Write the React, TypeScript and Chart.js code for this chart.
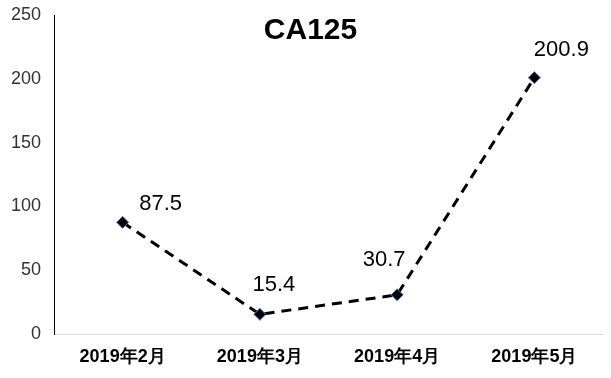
import React, { useEffect, useRef } from "react";
import { Chart, registerables } from "chart.js";

Chart.register(...registerables);

const categories = ["2019年2月", "2019年3月", "2019年4月", "2019年5月"];
const values = [87.5, 15.4, 30.7, 200.9];
const labelTexts = ["87.5", "15.4", "30.7", "200.9"];
const labelOffsetsX = [38, 14, -13, 27];
const labelOffsetsY = [-18, -29, -35, -28];
const titleText = "CA125";
const yMin = 0;
const yMax = 250;
const yStep = 50;

const FONT = "'Liberation Sans', Arial, sans-serif";

const overlayPlugin = {
  id: "overlay",
  afterDatasetsDraw(chart: any) {
    const ctx = chart.ctx;
    const meta = chart.getDatasetMeta(0);
    ctx.save();
    ctx.fillStyle = "#000";
    ctx.font = `22px ${FONT}`;
    ctx.textAlign = "center";
    ctx.textBaseline = "middle";
    meta.data.forEach((pt: any, i: number) => {
      ctx.fillText(labelTexts[i], pt.x + labelOffsetsX[i], pt.y + labelOffsetsY[i]);
    });
    ctx.font = `bold 30px ${FONT}`;
    const ca = chart.chartArea;
    ctx.fillText(titleText, (ca.left + ca.right) / 2 - 18, 31);
    ctx.restore();
  },
};

export default function App() {
  const ref = useRef<HTMLCanvasElement | null>(null);
  useEffect(() => {
    document.body.style.margin = "0";
    const chart = new Chart(ref.current as HTMLCanvasElement, {
      type: "line",
      data: {
        labels: categories,
        datasets: [
          {
            data: values,
            borderColor: "#000",
            borderWidth: 3,
            borderDash: [10, 7],
            fill: false,
            tension: 0,
            pointStyle: "rectRot",
            pointRadius: 6,
            pointBackgroundColor: "#000",
            pointBorderColor: "#4472c4",
            pointBorderWidth: 1,
          },
        ],
      },
      options: {
        animation: false,
        responsive: false,
        maintainAspectRatio: false,
        layout: { padding: { top: 15, right: 8, left: 0, bottom: 0 } },
        plugins: {
          legend: { display: false },
          tooltip: { enabled: false },
          title: { display: false },
        },
        scales: {
          x: {
            offset: true,
            grid: { display: false, drawTicks: false },
            border: { display: true, color: "#d9d9d9", width: 1 },
            ticks: {
              padding: 12,
              color: "#000",
              font: { family: FONT, size: 18, weight: "bold" },
              maxRotation: 0,
            },
            afterFit: (s: any) => {
              s.height = 44;
              s.paddingLeft = 0;
              s.paddingRight = 0;
            },
          },
          y: {
            min: yMin,
            max: yMax,
            grid: { display: false, drawTicks: false },
            border: { display: true, color: "#000", width: 1 },
            ticks: {
              stepSize: yStep,
              padding: 13,
              color: "#333",
              font: { family: FONT, size: 18 },
            },
            afterFit: (s: any) => {
              s.width = 54;
              s.paddingTop = 0;
              s.paddingBottom = 0;
            },
          },
        },
      },
      plugins: [overlayPlugin],
    });
    return () => chart.destroy();
  }, []);
  return (
    <div style={{ position: "absolute", left: 0, top: 0, width: 611, height: 378 }}>
      <canvas ref={ref} width={611} height={378} />
    </div>
  );
}
